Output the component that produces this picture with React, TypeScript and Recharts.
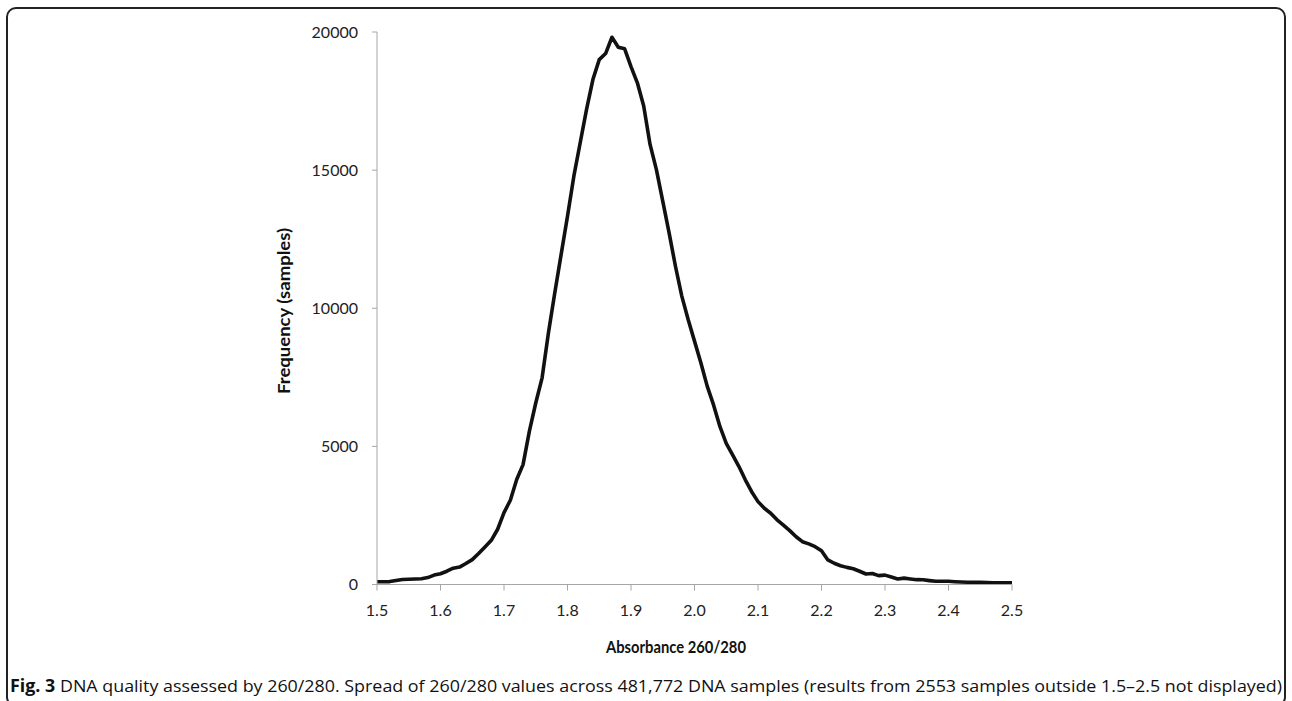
import React from "react";
import { CartesianGrid, Line, LineChart, XAxis, YAxis } from "recharts";

// absorbance ratio bins (260/280), one per 0.01
const ratios = [
  1.5, 1.51, 1.52, 1.53, 1.54, 1.55, 1.56, 1.57, 1.58, 1.59,
  1.6, 1.61, 1.62, 1.63, 1.64, 1.65, 1.66, 1.67, 1.68, 1.69,
  1.7, 1.71, 1.72, 1.73, 1.74, 1.75, 1.76, 1.77, 1.78, 1.79,
  1.8, 1.81, 1.82, 1.83, 1.84, 1.85, 1.86, 1.87, 1.88, 1.89,
  1.9, 1.91, 1.92, 1.93, 1.94, 1.95, 1.96, 1.97, 1.98, 1.99,
  2.0, 2.01, 2.02, 2.03, 2.04, 2.05, 2.06, 2.07, 2.08, 2.09,
  2.1, 2.11, 2.12, 2.13, 2.14, 2.15, 2.16, 2.17, 2.18, 2.19,
  2.2, 2.21, 2.22, 2.23, 2.24, 2.25, 2.26, 2.27, 2.28, 2.29,
  2.3, 2.31, 2.32, 2.33, 2.34, 2.35, 2.36, 2.37, 2.38, 2.39,
  2.4, 2.41, 2.42, 2.43, 2.44, 2.45, 2.46, 2.47, 2.48, 2.49,
  2.5,
];

// number of samples in each bin
const frequency = [
  100, 100, 105, 145, 180, 190, 200, 210, 250, 340,
  390, 480, 590, 630, 760, 900, 1120, 1360, 1600, 2000,
  2600, 3050, 3800, 4340, 5550, 6570, 7480, 9110, 10560, 11950,
  13330, 14780, 15990, 17200, 18280, 19000, 19220, 19810, 19450, 19390,
  18750, 18160, 17320, 15930, 15020, 13880, 12730, 11520, 10440, 9590,
  8810, 8030, 7180, 6500, 5720, 5110, 4690, 4270, 3790, 3360,
  3000, 2760, 2580, 2340, 2150, 1950, 1730, 1550, 1470, 1370,
  1220, 890, 770, 680, 620, 570, 480, 380, 400, 320,
  340, 270, 200, 230, 200, 175, 170, 140, 115, 115,
  115, 100, 90, 80, 80, 80, 70, 65, 65, 60,
  60,
];

const xTicks = [1.5, 1.6, 1.7, 1.8, 1.9, 2.0, 2.1, 2.2, 2.3, 2.4, 2.5];
const yTicks = [0, 5000, 10000, 15000, 20000];

const xTitle = "Absorbance 260/280";
const yTitle = "Frequency (samples)";
const captionLead = "Fig. 3";
const captionText =
  " DNA quality assessed by 260/280. Spread of 260/280 values across 481,772 DNA samples (results from 2553 samples outside 1.5\u20132.5 not displayed)";

const data = ratios.map((r, i) => ({ ratio: r, count: frequency[i] }));

const axisGrey = "#a6a6a6";
const tickFont = { fontFamily: "Lato", fontSize: 16, fill: "#222" };

export default function App() {
  return (
    <div style={{ position: "absolute", left: 0, top: 0, width: 1292, height: 701, background: "#fff", overflow: "hidden" }}>
      <div
        style={{
          position: "absolute",
          left: 6,
          top: 7,
          width: 1276,
          height: 696,
          border: "2px solid #222",
          borderRadius: 10,
        }}
      />
      <div style={{ position: "absolute", left: 0, top: 0 }}>
        <LineChart width={1292} height={701} data={data} margin={{ top: 32, right: 280, bottom: 86.5, left: 317 }}>
          <CartesianGrid stroke="none" />
          <XAxis
            dataKey="ratio"
            type="number"
            domain={[1.5, 2.5]}
            ticks={xTicks}
            tickFormatter={(v: number) => v.toFixed(1)}
            height={30}
            stroke={axisGrey}
            tickSize={6}
            tickMargin={14}
            tick={tickFont}
            allowDataOverflow
          />
          <YAxis
            type="number"
            domain={[0, 20000]}
            ticks={yTicks}
            width={60}
            stroke={axisGrey}
            tickSize={5}
            tickMargin={14}
            tick={tickFont}
          />
          <Line
            dataKey="count"
            type="linear"
            stroke="#111"
            strokeWidth={3.6}
            strokeLinejoin="round"
            strokeLinecap="round"
            dot={false}
            activeDot={false}
            isAnimationActive={false}
          />
        </LineChart>
      </div>
      <svg width={1292} height={701} style={{ position: "absolute", left: 0, top: 0, pointerEvents: "none" }}>
        <text
          x={283}
          y={311}
          transform="rotate(-90 283 311)"
          textAnchor="middle"
          dominantBaseline="central"
          textLength={166}
          lengthAdjust="spacingAndGlyphs"
          fontFamily="Lato"
          fontWeight={700}
          fontSize={17}
          fill="#111"
        >
          {yTitle}
        </text>
        <text
          x={676}
          y={653}
          textAnchor="middle"
          textLength={140}
          lengthAdjust="spacingAndGlyphs"
          fontFamily="Lato"
          fontWeight={700}
          fontSize={17}
          fill="#111"
        >
          {xTitle}
        </text>
        <text
          x={10}
          y={692}
          textLength={1272}
          lengthAdjust="spacingAndGlyphs"
          fontFamily="Open Sans"
          fontSize={17}
          fill="#111"
        >
          <tspan fontWeight={700}>{captionLead}</tspan>
          <tspan>{captionText}</tspan>
        </text>
      </svg>
    </div>
  );
}
